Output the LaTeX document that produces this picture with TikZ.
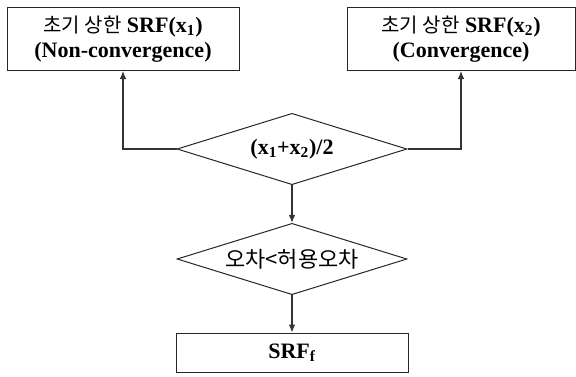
\documentclass[tikz,border=0pt]{standalone}
\usepackage{fontspec}
\setmainfont{Liberation Serif}
\newfontfamily\kr{Noto Sans CJK KR}
\usetikzlibrary{shapes.geometric,arrows.meta}
\begin{document}
\begin{tikzpicture}
  [x=0.75pt,y=-0.75pt,
   every node/.style={draw=black!85,line width=0.75pt,inner sep=0pt,align=center,
     font=\fontsize{16.5}{18.5}\selectfont\bfseries},
   box/.style={rectangle,minimum width=174pt,minimum height=47.25pt},
   cond/.style={diamond,aspect=3.2,minimum width=172.5pt,minimum height=53.5pt},
   kor/.style={font=\kr\mdseries\fontsize{#1}{18.5}\selectfont},
   flow/.style={draw=black!80,line width=0.9pt,-{Latex[length=6pt,width=5pt]}}]
  \useasboundingbox (0,0) rectangle (576,376);
  \node (b1)[box] at (123,39) {{\kr\mdseries\fontsize{15}{18.5}\selectfont 초기 상한} SRF(x\textsubscript{1})\\(Non-convergence)};
  \node (b2)[box,minimum width=171pt] at (461,39) {{\kr\mdseries\fontsize{15}{18.5}\selectfont 초기 상한} SRF(x\textsubscript{2})\\(Convergence)};
  \node (d1)[cond] at (292,149) {(x\textsubscript{1}+x\textsubscript{2})/2};
  \node (d2)[cond,kor=16.5] at (292,259) {오차<허용오차};
  \node (b3)[box,minimum height=29.25pt] at (292,352.5) {SRF\textsubscript{f}};
  \draw[flow] (d1.west) -| (b1.south);
  \draw[flow] (d1.east) -| (b2.south);
  \foreach \from/\to in {d1/d2,d2/b3}
    \draw[flow] (\from) -- (\to);
\end{tikzpicture}
\end{document}
